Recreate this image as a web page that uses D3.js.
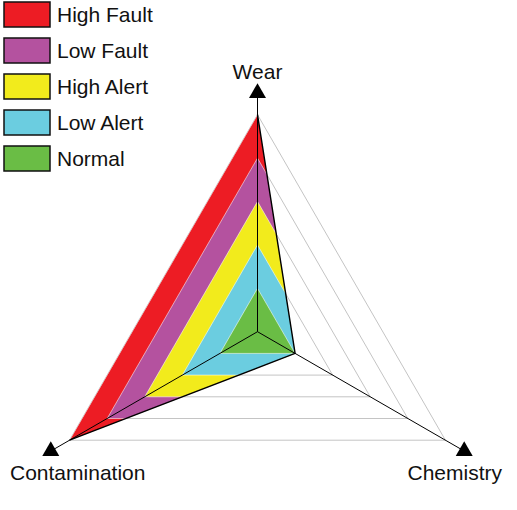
<!DOCTYPE html>
<html>
<head>
<meta charset="utf-8">
<script src="https://cdn.jsdelivr.net/npm/d3@7"></script>
<style>
  html, body { margin: 0; padding: 0; background: #fff; }
  svg { display: block; font-family: "Liberation Sans", Arial, sans-serif; }
</style>
</head>
<body>
<div id="radar"></div>
<script>
// axes of the radar, clockwise from the top
const axes = ['Wear', 'Chemistry', 'Contamination'];
// measured values on the 0-5 scale (same order as axes)
const measured = [5, 1, 5];
// zone bands, outer to inner: label, colour, level on every axis
const zoneLabels = ['High Fault', 'Low Fault', 'High Alert', 'Low Alert', 'Normal'];
const zoneColors = ['#ed1c24', '#b4529f', '#f2eb1c', '#6bcde0', '#6abd45'];
const zoneLevels = [5, 4, 3, 2, 1];
const gridLevels = [1, 2, 3, 4, 5];

const width = 517;
const height = 510;
const cx = 257.5;
const cy = 331.7;

const r = d3.scaleLinear().domain([0, 5]).range([0, 217]);
const angle = d3.scalePoint().domain(axes).range([-90, 270]).padding(0);
// scalePoint over 360° would put the last on the first, so step by thirds
const axisAngle = a => (-90 + axes.indexOf(a) * 120) * Math.PI / 180;

const pt = (a, v) => [cx + r(v) * Math.cos(axisAngle(a)), cy + r(v) * Math.sin(axisAngle(a))];
const ring = lvl => axes.map(a => pt(a, lvl));

const svg = d3.select('#radar').append('svg')
  .attr('width', width)
  .attr('height', height);

// grid triangles
svg.append('g').selectAll('polygon')
  .data(gridLevels)
  .enter().append('polygon')
  .attr('points', d => ring(d).map(p => p.join(',')).join(' '))
  .attr('fill', 'none')
  .attr('stroke', '#c4c4c4')
  .attr('stroke-width', 1);

// measured shape clips the zone bands
const dataPts = axes.map((a, i) => pt(a, measured[i]));
svg.append('clipPath').attr('id', 'data-clip')
  .append('polygon')
  .attr('points', dataPts.map(p => p.join(',')).join(' '));

svg.append('g').attr('clip-path', 'url(#data-clip)')
  .selectAll('polygon')
  .data(zoneLevels)
  .enter().append('polygon')
  .attr('points', d => ring(d).map(p => p.join(',')).join(' '))
  .attr('fill', (d, i) => zoneColors[i])
  .attr('stroke', 'rgba(255,255,255,0.55)')
  .attr('stroke-width', 1);

// black outline on the edges running through Chemistry
const outline = ['Wear', 'Chemistry', 'Contamination'].map(a => pt(a, measured[axes.indexOf(a)]));
svg.append('path')
  .attr('d', d3.line()(outline))
  .attr('fill', 'none')
  .attr('stroke', '#000')
  .attr('stroke-width', 1.4);

// axis lines with triangle markers
const axisMax = 5.5;
const axisG = svg.append('g');
axes.forEach(a => {
  const end = pt(a, axisMax);
  axisG.append('line')
    .attr('x1', cx).attr('y1', cy)
    .attr('x2', end[0]).attr('y2', end[1])
    .attr('stroke', '#000')
    .attr('stroke-width', 1);
  axisG.append('path')
    .attr('d', d3.symbol().type(d3.symbolTriangle).size(125)())
    .attr('transform', `translate(${end[0]},${end[1]})`)
    .attr('fill', '#000');
});

// axis labels, kept inside the picture
axes.forEach(a => {
  const end = pt(a, axisMax);
  const t = svg.append('text')
    .attr('font-size', 21)
    .attr('fill', '#111')
    .text(a);
  const w = t.node().getComputedTextLength();
  let x = end[0] - w / 2;
  x = Math.max(10, Math.min(width - 15 - w, x));
  const y = end[1] < cy ? end[1] - 14 : end[1] + 29;
  t.attr('x', x).attr('y', y);
});

// legend
const legend = svg.append('g').attr('transform', 'translate(4,2)');
const item = legend.selectAll('g')
  .data(zoneLabels)
  .enter().append('g')
  .attr('transform', (d, i) => `translate(0,${i * 36})`);
item.append('rect')
  .attr('width', 46)
  .attr('height', 25)
  .attr('fill', (d, i) => zoneColors[i])
  .attr('stroke', '#111')
  .attr('stroke-width', 1.5);
item.append('text')
  .attr('x', 53)
  .attr('y', 20)
  .attr('font-size', 21)
  .attr('fill', '#111')
  .text(d => d);
</script>
</body>
</html>
